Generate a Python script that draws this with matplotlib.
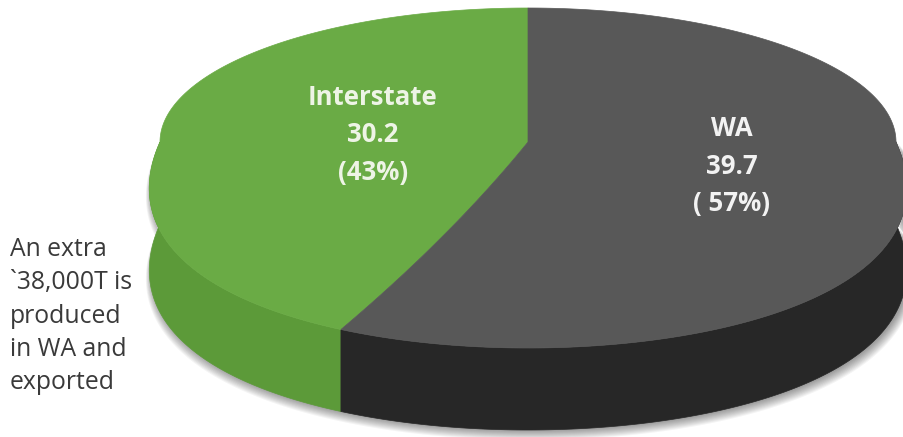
"""
3D-style pie: Interstate vs WA
"""

import numpy as np
import matplotlib.pyplot as plt
from matplotlib.patches import Polygon

plt.rcParams['font.family'] = ['Open Sans', 'DejaVu Sans']

# ===========================
# Data
# ===========================

labels = ["Interstate", "WA"]
values = [30.2, 39.7]
pct_labels = ["(43%)", "( 57%)"]

note = "An extra\n`38,000T is\nproduced\nin WA and\nexported"

# ===========================
# Style / geometry (pixel coords)
# ===========================

top_colors = ["#6aab45", "#585858"]
side_colors = ["#5c9a39", "#272727"]
text_colors = ["#eef4e6", "#f2f2f2"]
label_xy = [(373, 135), (732, 166)]

CX, CY = 528, 142      # centre of top face
A = 368                # half width
B_BACK, B_FRONT = 134, 206   # back half is flatter than the front half
Q = 0.25               # fake perspective (front wider)
DEPTH = 82
START = 90.0           # first slice starts at 12 o'clock, counterclockwise


def warp(u, v):
    vf = np.clip(v, 0, None)
    x = CX + A * u * (1 + Q * vf)
    y = CY + np.where(v < 0, B_BACK * v, B_FRONT * v)
    return x, y


def rim(theta_deg, t=1.0):
    th = np.radians(theta_deg)
    return warp(t * np.cos(th), -t * np.sin(th))


fig = plt.figure(figsize=(9.04, 4.37), dpi=100)
ax = fig.add_axes([0, 0, 1, 1])
ax.set_xlim(0, 904)
ax.set_ylim(437, 0)
ax.axis("off")

# soft shadow under the pie
full = np.linspace(180, 360, 361)
for i in range(10):
    sx, sy = rim(full, 1.0 + 0.0015 * i)
    sy = sy + DEPTH + 1 + i * 0.7
    ax.add_patch(Polygon(np.column_stack([np.r_[sx, sx[::-1]] + 2,
                                          np.r_[sy, sy[::-1] - DEPTH]]),
                         closed=True, facecolor="black", edgecolor="none",
                         alpha=0.045, zorder=1))

total = sum(values)
angles = [START]
for v in values:
    angles.append(angles[-1] + 360.0 * v / total)

# side walls (front half only)
for i in range(len(values)):
    a0, a1 = angles[i], angles[i + 1]
    lo = max(a0, 180.0)
    hi = min(a1, 360.0)
    if hi <= lo:
        continue
    th = np.linspace(lo, hi, 200)
    x, y = rim(th)
    pts = np.column_stack([np.r_[x, x[::-1]], np.r_[y, y[::-1] + DEPTH]])
    ax.add_patch(Polygon(pts, closed=True, facecolor=side_colors[i],
                         edgecolor=side_colors[i], lw=0.5, zorder=2))

# top faces
for i in range(len(values)):
    a0, a1 = angles[i], angles[i + 1]
    th = np.linspace(a0, a1, 300)
    t = np.linspace(0, 1, 50)
    x0, y0 = rim(np.full_like(t, a0), t)
    xa, ya = rim(th)
    x1, y1 = rim(np.full_like(t, a1), t[::-1])
    pts = np.column_stack([np.r_[x0, xa, x1], np.r_[y0, ya, y1]])
    ax.add_patch(Polygon(pts, closed=True, facecolor=top_colors[i],
                         edgecolor=top_colors[i], lw=0.5, zorder=3))

# slice labels
for i in range(len(values)):
    lx, ly = label_xy[i]
    ax.text(lx, ly, f"{labels[i]}\n{values[i]}\n{pct_labels[i]}",
            ha="center", va="center", fontsize=18.5, fontweight="bold",
            color=text_colors[i], linespacing=1.5, zorder=5)

# side note
ax.text(10, 237, note, ha="left", va="top", fontsize=17.8,
        color="#3a3a3a", linespacing=1.44, zorder=5)

plt.savefig("out.png", dpi=100)
